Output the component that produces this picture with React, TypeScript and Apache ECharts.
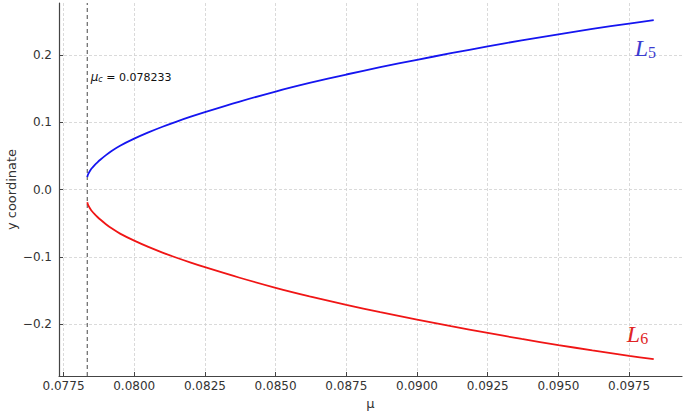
import React, { useEffect, useRef } from "react";
import * as echarts from "echarts";

const MU_C_LABEL = "0.078233";
const muCritical = 0.07834;
const muValues = [0.07834, 0.07836, 0.0784, 0.07845, 0.0785, 0.0786, 0.0787, 0.0788, 0.079, 0.0792, 0.0795, 0.08, 0.0805, 0.081, 0.0815, 0.082, 0.0825, 0.0837, 0.085, 0.0862, 0.0875, 0.0887, 0.09, 0.0912, 0.0925, 0.0937, 0.095, 0.0962, 0.0975, 0.09837];
const l5Values = [0.0185, 0.0215, 0.025, 0.0285, 0.0315, 0.0362, 0.0403, 0.0441, 0.051, 0.0572, 0.065, 0.0755, 0.0848, 0.0932, 0.1009, 0.1081, 0.1149, 0.1302, 0.1455, 0.1582, 0.1708, 0.1816, 0.1926, 0.2024, 0.2125, 0.2215, 0.2305, 0.2385, 0.2465, 0.2515];
const l6Values = [-0.019, -0.022, -0.0255, -0.029, -0.032, -0.0367, -0.0408, -0.0446, -0.0515, -0.0577, -0.0655, -0.076, -0.0853, -0.0937, -0.1014, -0.1086, -0.1154, -0.1307, -0.146, -0.1587, -0.1713, -0.1821, -0.1931, -0.2029, -0.213, -0.222, -0.231, -0.239, -0.247, -0.252];
const xTicks = [0.0775, 0.08, 0.0825, 0.085, 0.0875, 0.09, 0.0925, 0.095, 0.0975];
const yTicks = [-0.2, -0.1, 0, 0.1, 0.2];
const X_MIN = 0.07734;
const X_MAX = 0.09937;
const Y_MIN = -0.277;
const Y_MAX = 0.277;

const App: React.FC = () => {
  const ref = useRef<HTMLDivElement>(null);
  useEffect(() => {
    if (!ref.current) return;
    const chart = echarts.init(ref.current, undefined, { renderer: "svg" });
    const axisLine = { show: true, onZero: false, lineStyle: { color: "#444", width: 1.2 } };
    const splitLine = { show: true, lineStyle: { color: "#d0d0d0", type: [3, 2], width: 0.8 } };
    const labelStyle = { color: "#333", fontSize: 12, fontFamily: "DejaVu Sans" };
    chart.setOption({
      animation: false,
      grid: { left: 59, right: 3, top: 3, bottom: 38, containLabel: false, outerBoundsMode: "none" },
      xAxis: {
        type: "value",
        min: X_MIN,
        max: X_MAX,
        name: "μ",
        nameLocation: "middle",
        nameGap: 21,
        nameTextStyle: { color: "#333", fontSize: 13, fontFamily: "DejaVu Sans" },
        axisLine,
        axisTick: { show: true, inside: true, length: 4, customValues: xTicks, lineStyle: { color: "#444" } },
        axisLabel: { ...labelStyle, margin: 4, customValues: xTicks, formatter: (v: number) => v.toFixed(4) },
        splitLine,
      },
      yAxis: {
        type: "value",
        min: Y_MIN,
        max: Y_MAX,
        name: "y coordinate",
        nameLocation: "middle",
        nameGap: 41,
        nameMoveOverlap: false,
        nameTextStyle: { color: "#333", fontSize: 13, fontFamily: "DejaVu Sans" },
        axisLine,
        axisTick: { show: true, inside: true, length: 4, customValues: yTicks, lineStyle: { color: "#444" } },
        axisLabel: { ...labelStyle, margin: 7, customValues: yTicks, formatter: (v: number) => v.toFixed(1).replace("-", "−") },
        splitLine,
      },
      series: [
        {
          type: "line",
          name: "critical",
          data: [
            [muCritical, Y_MIN],
            [muCritical, Y_MAX],
          ],
          symbol: "none",
          silent: true,
          lineStyle: { color: "#666", type: [4, 3], width: 1.2 },
          markPoint: {
            symbol: "circle",
            symbolSize: 0,
            data: [
              {
                coord: [0.07846, 0.1669],
                label: {
                  show: true,
                  position: "right",
                  distance: 0,
                  formatter: "{mu|μ}{sub|c}{n| = " + MU_C_LABEL + "}",
                  rich: {
                    mu: { fontSize: 12, fontStyle: "italic", color: "#111", fontFamily: "DejaVu Sans" },
                    sub: { fontSize: 8, fontStyle: "italic", color: "#111", fontFamily: "DejaVu Sans", padding: [5, 0, 0, 0] },
                    n: { fontSize: 11, color: "#111", fontFamily: "DejaVu Sans" },
                  },
                },
              },
            ],
          },
        },
        {
          type: "line",
          name: "L5",
          data: muValues.map((m, i) => [m, l5Values[i]]),
          symbol: "none",
          smooth: 0.3,
          lineStyle: { color: "#1515f0", width: 1.8 },
          markPoint: {
            symbol: "circle",
            symbolSize: 0,
            data: [
              {
                coord: [0.0977, 0.21],
                label: {
                  show: true,
                  position: "right",
                  distance: 0,
                  formatter: "{L|L}{s|5}",
                  rich: {
                    L: { fontSize: 24, fontStyle: "italic", color: "#3c3cd0", fontFamily: "Liberation Serif" },
                    s: { fontSize: 16, color: "#3c3cd0", fontFamily: "Liberation Serif", padding: [9, 0, 0, 0] },
                  },
                },
              },
            ],
          },
        },
        {
          type: "line",
          name: "L6",
          data: muValues.map((m, i) => [m, l6Values[i]]),
          symbol: "none",
          smooth: 0.3,
          lineStyle: { color: "#f01515", width: 1.8 },
          markPoint: {
            symbol: "circle",
            symbolSize: 0,
            data: [
              {
                coord: [0.09742, -0.215],
                label: {
                  show: true,
                  position: "right",
                  distance: 0,
                  formatter: "{L|L}{s|6}",
                  rich: {
                    L: { fontSize: 24, fontStyle: "italic", color: "#e02424", fontFamily: "Liberation Serif" },
                    s: { fontSize: 16, color: "#e02424", fontFamily: "Liberation Serif", padding: [9, 0, 0, 0] },
                  },
                },
              },
            ],
          },
        },
      ],
    });
    return () => chart.dispose();
  }, []);
  return <div ref={ref} style={{ width: 685, height: 414, position: "absolute", left: 0, top: 0 }} />;
};

export default App;
